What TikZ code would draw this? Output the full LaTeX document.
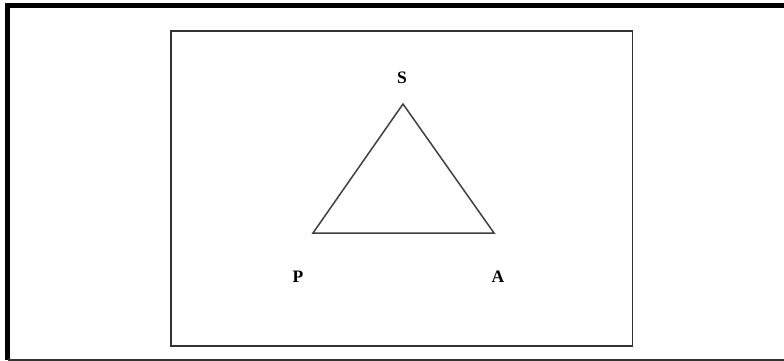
\documentclass[tikz,border=0pt]{standalone}
\usepackage{fontspec}
\setmainfont{Liberation Serif}
\begin{document}
\begin{tikzpicture}[x=1pt,y=-1pt,
  lbl/.style={font=\fontsize{17.5}{17.5}\selectfont\bfseries, inner sep=0pt},
  edge/.style={draw=black!75, line width=1.5pt}]
\useasboundingbox (0,0) rectangle (784,361);
\fill[white] (0,0) rectangle (784,361);
% outer frame
\coordinate (tl) at (7.5,5.5);
\coordinate (tr) at (784,5.5);
\coordinate (bl) at (7.5,359.5);
\coordinate (br) at (784,359.5);
\draw[line width=5pt] (tr) -- (tl) -- (bl);
\draw[line width=2pt, black!80] (bl) -- (br);
% inner box
\draw[line width=1.2pt, black!80] (171,31) rectangle (632.5,346);
% triangle
\coordinate (s) at (403,104);
\coordinate (p) at (313,233);
\coordinate (a) at (494,233);
\draw[edge, line join=miter] (s) -- (p) -- (a) -- cycle;
\node[lbl] (S) at (402,78) {S};
\node[lbl] (P) at (298,276.5) {P};
\node[lbl] (A) at (498,276.5) {A};
\end{tikzpicture}
\end{document}
